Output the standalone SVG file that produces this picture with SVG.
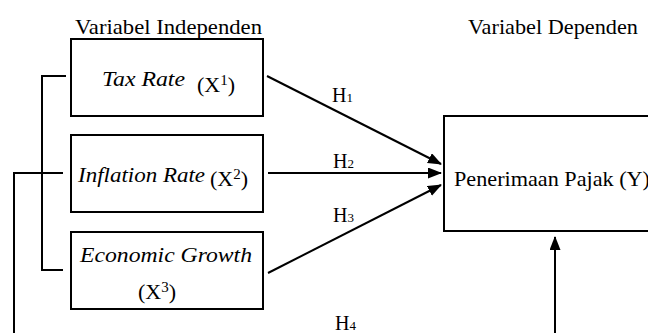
<svg xmlns="http://www.w3.org/2000/svg" width="648" height="333" viewBox="0 0 648 333">
<style>
  .box{fill:#fff;stroke:#000;stroke-width:2}
  .t{font-family:"Liberation Serif","Times New Roman",serif;font-size:22px;fill:#000}
  .it{font-style:italic}
  .h{font-family:"Liberation Serif","Times New Roman",serif;font-size:20px;fill:#000}
  .ln{fill:none;stroke:#000;stroke-width:2}
</style>
<defs>
  <marker id="ah" markerUnits="userSpaceOnUse" markerWidth="14" markerHeight="12" refX="13" refY="5.5" orient="auto">
    <path d="M0,0 L14,5.5 L0,11 z" fill="#000"/>
  </marker>
</defs>
<rect width="648" height="333" fill="#fff"/>
<text class="t" x="75" y="34" textLength="187" lengthAdjust="spacingAndGlyphs">Variabel Independen</text>
<text class="t" x="468" y="34" textLength="170" lengthAdjust="spacingAndGlyphs">Variabel Dependen</text>
<g id="x1">
  <rect class="box" x="71" y="39" width="192" height="77"/>
  <text class="t it" x="102" y="86" textLength="83" lengthAdjust="spacingAndGlyphs">Tax Rate</text>
  <text class="t" x="197" y="92">(X<tspan font-size="15" dy="-7">1</tspan><tspan dy="7">)</tspan></text>
</g>
<g id="x2">
  <rect class="box" x="71" y="135" width="192" height="77"/>
  <text class="t it" x="78" y="182" textLength="127" lengthAdjust="spacingAndGlyphs">Inflation Rate</text>
  <text class="t" x="210" y="186">(X<tspan font-size="15" dy="-7">2</tspan><tspan dy="7">)</tspan></text>
</g>
<g id="x3">
  <rect class="box" x="71" y="232" width="192" height="77"/>
  <text class="t it" x="80" y="262" textLength="172" lengthAdjust="spacingAndGlyphs">Economic Growth</text>
  <text class="t" x="138" y="299">(X<tspan font-size="15" dy="-7">3</tspan><tspan dy="7">)</tspan></text>
</g>
<g id="y">
  <rect class="box" x="444" y="116" width="230" height="115"/>
  <text class="t" x="454" y="186" textLength="196" lengthAdjust="spacingAndGlyphs">Penerimaan Pajak (Y)</text>
</g>
<g id="connectors">
  <path class="ln" d="M66,76 H42 V270 H63"/>
  <path class="ln" d="M63,173 H14 V340"/>
  <line class="ln" x1="267" y1="76" x2="441" y2="164" marker-end="url(#ah)"/>
  <line class="ln" x1="268" y1="173" x2="441" y2="173" marker-end="url(#ah)"/>
  <line class="ln" x1="268" y1="273" x2="441" y2="185" marker-end="url(#ah)"/>
  <line class="ln" x1="555" y1="340" x2="555" y2="237" marker-end="url(#ah)"/>
  <text class="h" x="332" y="102">H<tspan font-size="13">1</tspan></text>
  <text class="h" x="333" y="168">H<tspan font-size="13">2</tspan></text>
  <text class="h" x="333" y="222">H<tspan font-size="13">3</tspan></text>
  <text class="h" x="335" y="330">H<tspan font-size="13">4</tspan></text>
</g>
</svg>
